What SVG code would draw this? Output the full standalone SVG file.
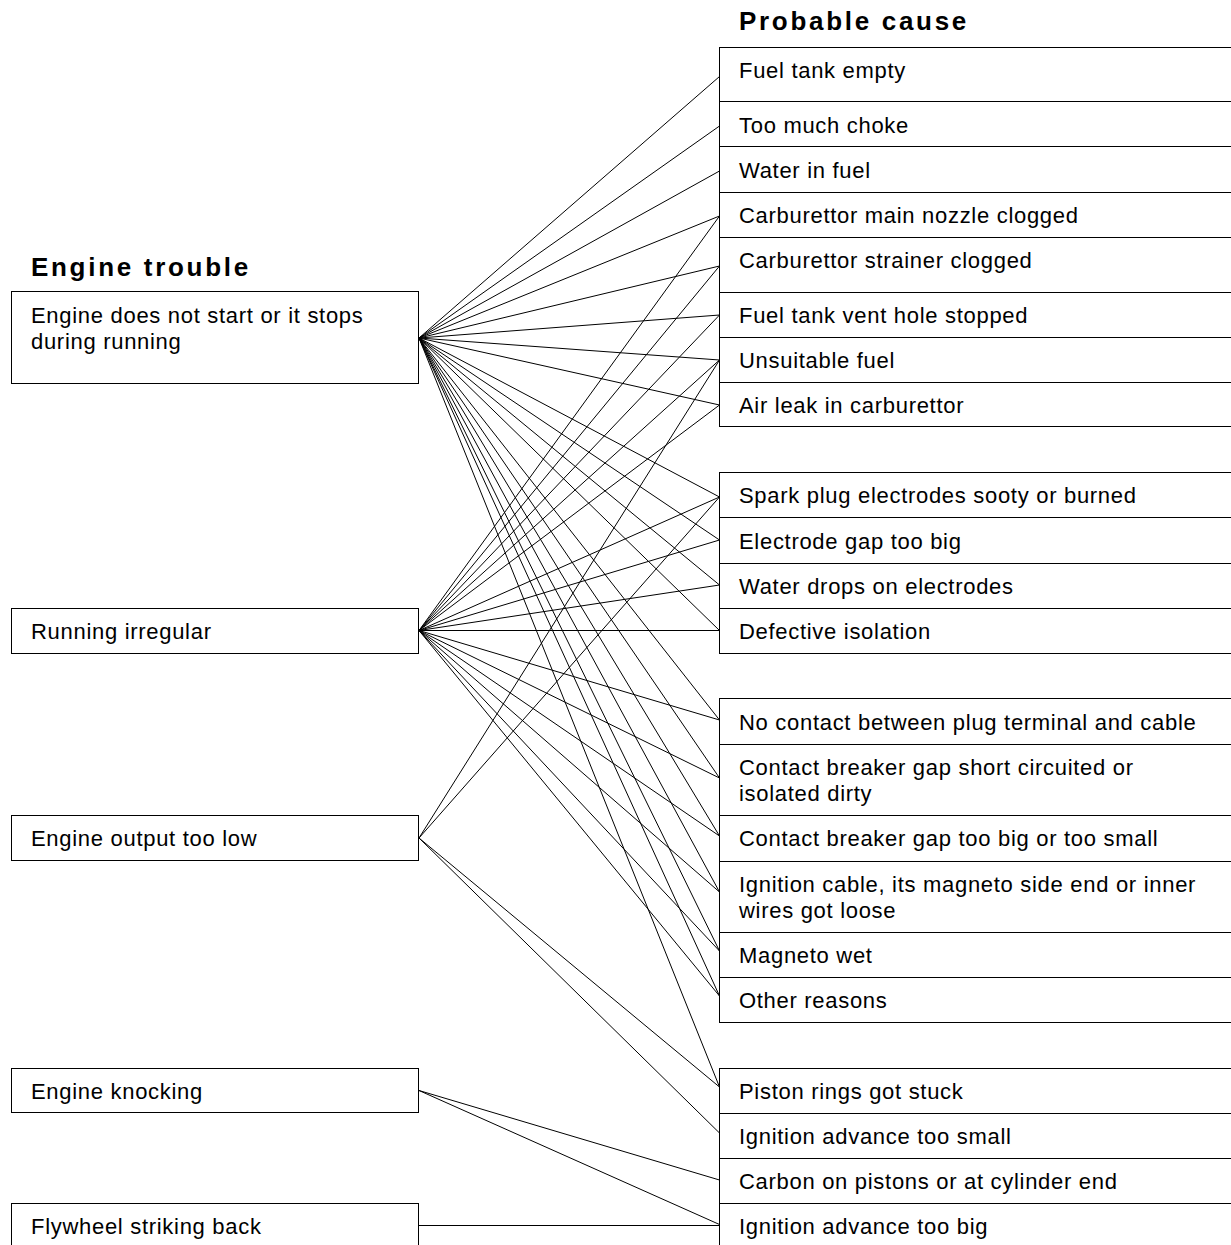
<svg xmlns="http://www.w3.org/2000/svg" width="1231" height="1245" viewBox="0 0 1231 1245">
<style>
.bg{fill:#ffffff}
.box{fill:#ffffff;stroke:#000000;stroke-width:1}
.t{font-family:"Liberation Sans",Arial,sans-serif;font-size:22px;letter-spacing:0.7px;fill:#000000}
.h{font-family:"Liberation Sans",Arial,sans-serif;font-size:26px;font-weight:bold;letter-spacing:2.7px;fill:#000000}
.c line{stroke:#000000;stroke-width:1;fill:none}
</style>
<rect class="bg" x="0" y="0" width="1231" height="1245"/>
<text class="h" x="31" y="276">Engine trouble</text>
<text class="h" x="739" y="30">Probable cause</text>

<g id="connectors" class="c">
<!-- Engine does not start (419,338) -->
<line x1="419" y1="338" x2="719.5" y2="76.5"/>
<line x1="419" y1="338" x2="719.5" y2="126"/>
<line x1="419" y1="338" x2="719.5" y2="171"/>
<line x1="419" y1="338" x2="719.5" y2="216"/>
<line x1="419" y1="338" x2="719.5" y2="266"/>
<line x1="419" y1="338" x2="719.5" y2="315"/>
<line x1="419" y1="338" x2="719.5" y2="360"/>
<line x1="419" y1="338" x2="719.5" y2="405"/>
<line x1="419" y1="338" x2="719.5" y2="497"/>
<line x1="419" y1="338" x2="719.5" y2="540"/>
<line x1="419" y1="338" x2="719.5" y2="585"/>
<line x1="419" y1="338" x2="719.5" y2="630.5"/>
<line x1="419" y1="338" x2="719.5" y2="720"/>
<line x1="419" y1="338" x2="719.5" y2="778"/>
<line x1="419" y1="338" x2="719.5" y2="836"/>
<line x1="419" y1="338" x2="719.5" y2="892"/>
<line x1="419" y1="338" x2="719.5" y2="951"/>
<line x1="419" y1="338" x2="719.5" y2="996"/>
<line x1="419" y1="338" x2="719.5" y2="1087"/>
<!-- Running irregular (419,630.5) -->
<line x1="419" y1="630.5" x2="719.5" y2="216"/>
<line x1="419" y1="630.5" x2="719.5" y2="266"/>
<line x1="419" y1="630.5" x2="719.5" y2="315"/>
<line x1="419" y1="630.5" x2="719.5" y2="360"/>
<line x1="419" y1="630.5" x2="719.5" y2="405"/>
<line x1="419" y1="630.5" x2="719.5" y2="497"/>
<line x1="419" y1="630.5" x2="719.5" y2="540"/>
<line x1="419" y1="630.5" x2="719.5" y2="585"/>
<line x1="419" y1="630.5" x2="719.5" y2="630.5"/>
<line x1="419" y1="630.5" x2="719.5" y2="720"/>
<line x1="419" y1="630.5" x2="719.5" y2="778"/>
<line x1="419" y1="630.5" x2="719.5" y2="836"/>
<line x1="419" y1="630.5" x2="719.5" y2="892"/>
<line x1="419" y1="630.5" x2="719.5" y2="951"/>
<line x1="419" y1="630.5" x2="719.5" y2="996"/>
<!-- Engine output too low (419,838) -->
<line x1="419" y1="838" x2="719.5" y2="360"/>
<line x1="419" y1="838" x2="719.5" y2="497"/>
<line x1="419" y1="838" x2="719.5" y2="1087"/>
<line x1="419" y1="838" x2="719.5" y2="1133"/>
<!-- Engine knocking (419,1090.5) -->
<line x1="419" y1="1090.5" x2="719.5" y2="1180"/>
<line x1="419" y1="1090.5" x2="719.5" y2="1224.5"/>
<!-- Flywheel striking back -->
<line x1="419" y1="1225.5" x2="719.5" y2="1225.5"/>
</g>

<g id="trouble-not-start"><rect class="box" x="11.5" y="291.5" width="407" height="92"/><text class="t" x="31" y="323">Engine does not start or it stops</text><text class="t" x="31" y="349">during running</text></g>
<g id="trouble-irregular"><rect class="box" x="11.5" y="608.5" width="407" height="45"/><text class="t" x="31" y="639">Running irregular</text></g>
<g id="trouble-output"><rect class="box" x="11.5" y="815.5" width="407" height="45"/><text class="t" x="31" y="846">Engine output too low</text></g>
<g id="trouble-knocking"><rect class="box" x="11.5" y="1068.5" width="407" height="44"/><text class="t" x="31" y="1099">Engine knocking</text></g>
<g id="trouble-flywheel"><rect class="box" x="11.5" y="1203.5" width="407" height="60"/><text class="t" x="31" y="1234">Flywheel striking back</text></g>

<g id="cause-fuel-empty"><rect class="box" x="719.5" y="47.5" width="530" height="54"/><text class="t" x="739" y="78">Fuel tank empty</text></g>
<g id="cause-choke"><rect class="box" x="719.5" y="101.5" width="530" height="45"/><text class="t" x="739" y="133">Too much choke</text></g>
<g id="cause-water-fuel"><rect class="box" x="719.5" y="146.5" width="530" height="46"/><text class="t" x="739" y="178">Water in fuel</text></g>
<g id="cause-nozzle"><rect class="box" x="719.5" y="192.5" width="530" height="45"/><text class="t" x="739" y="223">Carburettor main nozzle clogged</text></g>
<g id="cause-strainer"><rect class="box" x="719.5" y="237.5" width="530" height="55"/><text class="t" x="739" y="268">Carburettor strainer clogged</text></g>
<g id="cause-vent"><rect class="box" x="719.5" y="292.5" width="530" height="45"/><text class="t" x="739" y="323">Fuel tank vent hole stopped</text></g>
<g id="cause-unsuitable"><rect class="box" x="719.5" y="337.5" width="530" height="45"/><text class="t" x="739" y="368">Unsuitable fuel</text></g>
<g id="cause-air-leak"><rect class="box" x="719.5" y="382.5" width="530" height="44"/><text class="t" x="739" y="413">Air leak in carburettor</text></g>

<g id="cause-spark"><rect class="box" x="719.5" y="472.5" width="530" height="45"/><text class="t" x="739" y="503">Spark plug electrodes sooty or burned</text></g>
<g id="cause-gap"><rect class="box" x="719.5" y="517.5" width="530" height="46"/><text class="t" x="739" y="549">Electrode gap too big</text></g>
<g id="cause-water-drops"><rect class="box" x="719.5" y="563.5" width="530" height="45"/><text class="t" x="739" y="594">Water drops on electrodes</text></g>
<g id="cause-isolation"><rect class="box" x="719.5" y="608.5" width="530" height="45"/><text class="t" x="739" y="639">Defective isolation</text></g>

<g id="cause-no-contact"><rect class="box" x="719.5" y="698.5" width="530" height="46"/><text class="t" x="739" y="730">No contact between plug terminal and cable</text></g>
<g id="cause-breaker-short"><rect class="box" x="719.5" y="744.5" width="530" height="71"/><text class="t" x="739" y="775">Contact breaker gap short circuited or</text><text class="t" x="739" y="801">isolated dirty</text></g>
<g id="cause-breaker-gap"><rect class="box" x="719.5" y="815.5" width="530" height="46"/><text class="t" x="739" y="846">Contact breaker gap too big or too small</text></g>
<g id="cause-cable"><rect class="box" x="719.5" y="861.5" width="530" height="71"/><text class="t" x="739" y="892">Ignition cable, its magneto side end or inner</text><text class="t" x="739" y="918">wires got loose</text></g>
<g id="cause-magneto"><rect class="box" x="719.5" y="932.5" width="530" height="45"/><text class="t" x="739" y="963">Magneto wet</text></g>
<g id="cause-other"><rect class="box" x="719.5" y="977.5" width="530" height="45"/><text class="t" x="739" y="1008">Other reasons</text></g>

<g id="cause-piston"><rect class="box" x="719.5" y="1068.5" width="530" height="45"/><text class="t" x="739" y="1099">Piston rings got stuck</text></g>
<g id="cause-adv-small"><rect class="box" x="719.5" y="1113.5" width="530" height="45"/><text class="t" x="739" y="1144">Ignition advance too small</text></g>
<g id="cause-carbon"><rect class="box" x="719.5" y="1158.5" width="530" height="45"/><text class="t" x="739" y="1189">Carbon on pistons or at cylinder end</text></g>
<g id="cause-adv-big"><rect class="box" x="719.5" y="1203.5" width="530" height="60"/><text class="t" x="739" y="1234">Ignition advance too big</text></g>
</svg>
